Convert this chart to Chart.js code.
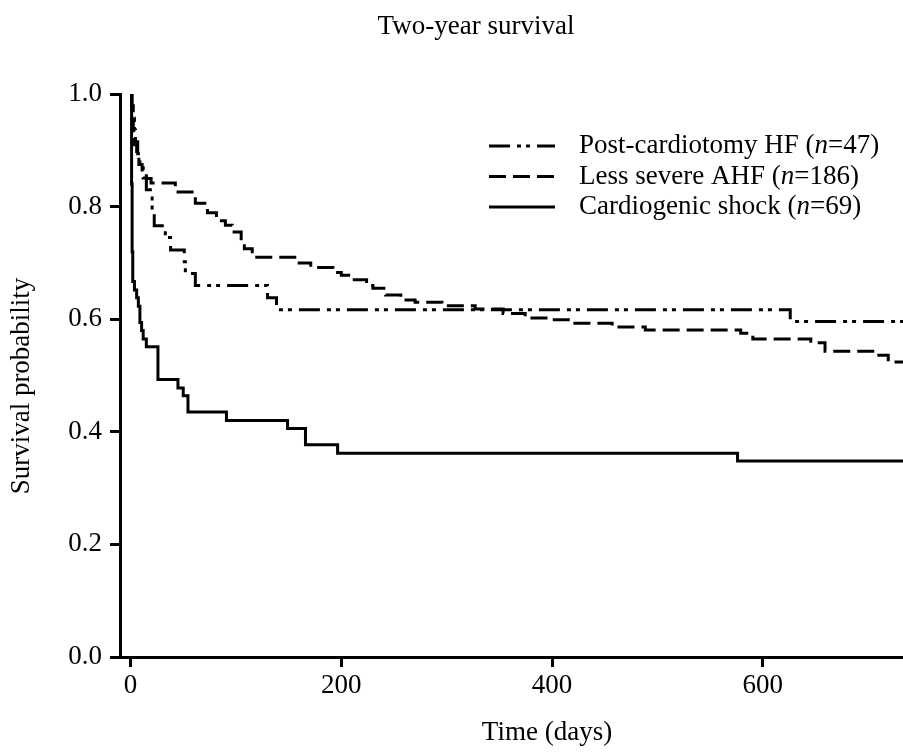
<!DOCTYPE html>
<html>
<head>
<meta charset="utf-8">
<script src="https://cdn.jsdelivr.net/npm/chart.js@4.4.1/dist/chart.umd.min.js"></script>
<style>
  html, body { margin: 0; padding: 0; background: #fff; }
  canvas { display: block; }
</style>
</head>
<body>
<canvas id="kmChart" width="903" height="752"></canvas>
<script>
// Kaplan-Meier curves (days, survival probability)
const postDays = [0, 1.5, 2.6, 3.7, 4.7, 6.8, 8.9, 12, 15, 20.5, 22.5, 33, 38, 51, 52, 61.5, 130, 138.5, 626, 733];
const postSurv = [1.0, 0.979, 0.957, 0.936, 0.915, 0.894, 0.872, 0.851, 0.830, 0.787, 0.766, 0.745, 0.723, 0.702, 0.681, 0.660, 0.638, 0.617, 0.596, 0.596];

const ahfDays = [0, 1, 1.5, 2.6, 3.7, 5.8, 7.9, 11, 15, 19.5, 42.5, 61.5, 73, 81.5, 90, 96.5, 105, 108, 115.5, 157.5, 171, 192, 200, 207, 224, 230, 242, 256.5, 270, 295.5, 327, 353.5, 374.5, 396, 418, 457, 488.5, 579, 590.5, 645.5, 659, 706.5, 719, 733];
const ahfSurv = [1.0, 0.97, 0.95, 0.93, 0.91, 0.89, 0.875, 0.862, 0.85, 0.842, 0.826, 0.806, 0.789, 0.775, 0.767, 0.755, 0.74, 0.725, 0.71, 0.70, 0.692, 0.683, 0.678, 0.67, 0.66, 0.655, 0.643, 0.634, 0.63, 0.624, 0.618, 0.61, 0.602, 0.599, 0.593, 0.586, 0.581, 0.575, 0.565, 0.558, 0.543, 0.536, 0.524, 0.524];

const shockDays = [0, 1, 1.5, 2.1, 3.7, 5.8, 7.4, 8.9, 10.5, 12, 15, 26, 45, 50, 54.5, 91, 149, 166, 196.5, 576, 733];
const shockSurv = [1.0, 0.84, 0.72, 0.667, 0.652, 0.638, 0.623, 0.594, 0.58, 0.565, 0.551, 0.493, 0.478, 0.464, 0.435, 0.42, 0.406, 0.377, 0.362, 0.348, 0.348];

const groupNames = ['Post-cardiotomy HF', 'Less severe AHF', 'Cardiogenic shock'];
const groupN = [47, 186, 69];
const xTicks = [0, 200, 400, 600];
const yTicks = [0, 0.2, 0.4, 0.6, 0.8, 1.0];
const chartTitle = 'Two-year survival';
const xTitle = 'Time (days)';
const yTitle = 'Survival probability';

const dashes = [[21, 7, 4, 5, 4, 7], [17, 7], []];
const serif = '"Liberation Serif", "Times New Roman", serif';
const fs = 27;
Chart.defaults.font.family = serif;
Chart.defaults.color = '#000';

const toPoints = (xs, ys) => xs.map((d, i) => ({ x: d, y: ys[i] }));

function series(label, xs, ys, dash) {
    return {
        label: label,
        data: toPoints(xs, ys),
        stepped: 'before',
        borderColor: '#000',
        borderWidth: 3,
        borderDash: dash,
        borderCapStyle: 'butt',
        pointRadius: 0,
        fill: false
    };
}

// titles and legend drawn on top
const extras = {
    id: 'extras',
    afterDraw(chart) {
        const ctx = chart.ctx;
        ctx.save();
        ctx.fillStyle = '#000';
        ctx.font = fs + 'px ' + serif;
        ctx.textAlign = 'center';
        ctx.textBaseline = 'middle';
        ctx.fillText(chartTitle, 476, 27);
        ctx.fillText(xTitle, 547, 733);

        ctx.save();
        ctx.translate(22, 386);
        ctx.rotate(-Math.PI / 2);
        ctx.fillText(yTitle, 0, 0);
        ctx.restore();

        ctx.textAlign = 'left';
        groupNames.forEach((name, i) => {
            const y = 146 + i * 30.5;
            ctx.beginPath();
            ctx.setLineDash(dashes[i]);
            ctx.lineWidth = 3;
            ctx.strokeStyle = '#000';
            ctx.moveTo(489, y);
            ctx.lineTo(555, y);
            ctx.stroke();
            ctx.setLineDash([]);

            let x = 579;
            ctx.font = fs + 'px ' + serif;
            const a = name + ' (';
            ctx.fillText(a, x, y);
            x += ctx.measureText(a).width;
            ctx.font = 'italic ' + fs + 'px ' + serif;
            ctx.fillText('n', x, y);
            x += ctx.measureText('n').width;
            ctx.font = fs + 'px ' + serif;
            ctx.fillText('=' + groupN[i] + ')', x, y);
        });
        ctx.restore();
    }
};

new Chart(document.getElementById('kmChart').getContext('2d'), {
    type: 'line',
    data: {
        datasets: [
            series(groupNames[0], postDays, postSurv, dashes[0]),
            series(groupNames[1], ahfDays, ahfSurv, dashes[1]),
            series(groupNames[2], shockDays, shockSurv, dashes[2])
        ]
    },
    options: {
        responsive: false,
        animation: false,
        layout: { padding: { top: 94, left: 0, right: 0, bottom: 0 } },
        plugins: {
            legend: { display: false },
            tooltip: { enabled: false },
            title: { display: false }
        },
        scales: {
            x: {
                type: 'linear',
                min: -10,
                max: 733,
                afterBuildTicks: s => { s.ticks = xTicks.map(v => ({ value: v })); },
                afterFit: s => { s.height = 95; },
                grid: { display: true, drawOnChartArea: false, drawTicks: true, tickLength: 10, tickWidth: 3, tickColor: '#000' },
                border: { display: true, width: 3, color: '#000' },
                ticks: { color: '#000', font: { size: fs }, padding: 3, maxRotation: 0 }
            },
            y: {
                min: 0,
                max: 1,
                afterBuildTicks: s => { s.ticks = yTicks.map(v => ({ value: v })); },
                afterFit: s => { s.width = 120; },
                grid: { display: true, drawOnChartArea: false, drawTicks: true, tickLength: 10, tickWidth: 3, tickColor: '#000' },
                border: { display: true, width: 3, color: '#000' },
                ticks: { color: '#000', font: { size: fs }, padding: 8, callback: v => v.toFixed(1) }
            }
        }
    },
    plugins: [extras]
});
</script>
</body>
</html>
